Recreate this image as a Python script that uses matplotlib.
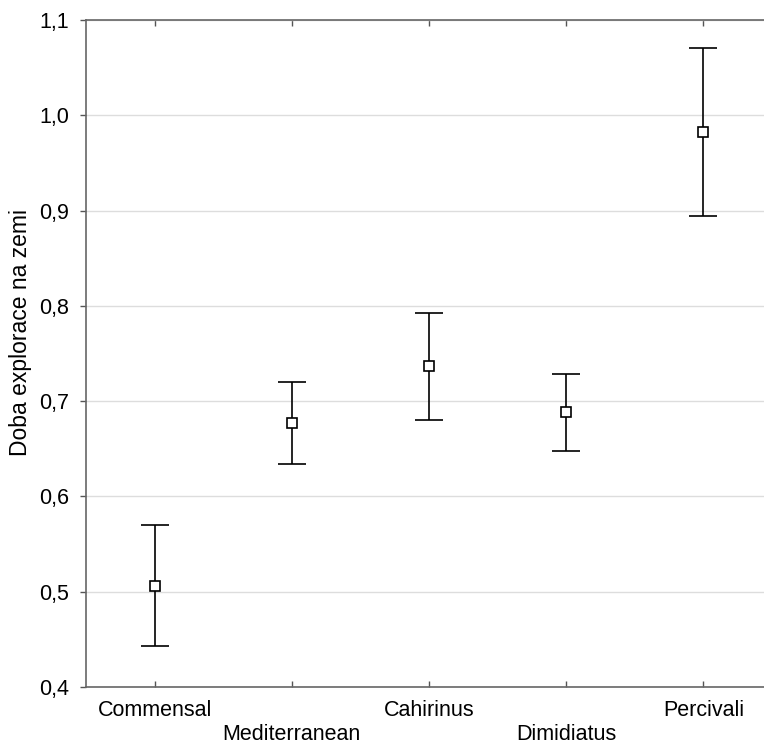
import matplotlib
matplotlib.use("Agg")
import matplotlib.pyplot as plt
import numpy as np

categories = ["Commensal", "Mediterranean", "Cahirinus", "Dimidiatus", "Percivali"]
means = [0.506, 0.677, 0.737, 0.689, 0.982]
upper = [0.570, 0.720, 0.792, 0.729, 1.071]
lower = [0.443, 0.634, 0.680, 0.648, 0.894]
yticks = [0.4, 0.5, 0.6, 0.7, 0.8, 0.9, 1.0, 1.1]
ytick_labels = ["0,4", "0,5", "0,6", "0,7", "0,8", "0,9", "1,0", "1,1"]
ylabel = "Doba explorace na zemi"

plt.rcParams['font.family'] = ['Liberation Sans', 'DejaVu Sans']

W, H = 764, 747
fig = plt.figure(figsize=(W / 100, H / 100), dpi=100)
ax = fig.add_axes([86 / W, (H - 687) / H, (772 - 86) / W, 667 / H])

x = np.arange(len(categories))
m = np.array(means)
yerr = np.vstack([m - np.array(lower), np.array(upper) - m])
ax.errorbar(x, m, yerr=yerr, fmt='s', color='black', ecolor='black',
            elinewidth=1.2, capsize=10, capthick=1.6,
            markersize=7, markerfacecolor='white', markeredgecolor='black',
            markeredgewidth=1.2, zorder=3)

ax.set_xlim(-0.5, len(categories) - 0.5)
ax.set_ylim(0.4, 1.1)
ax.set_yticks(yticks)
ax.set_yticklabels(ytick_labels, fontsize=15.5)
ax.set_xticks(x)
ax.set_xticklabels([c if i % 2 == 0 else "\n" + c for i, c in enumerate(categories)],
                   fontsize=15.5, linespacing=1.25)
ax.yaxis.grid(True, color='#dddddd', linewidth=1.0)
ax.set_axisbelow(True)
ax.tick_params(axis='x', direction='in', top=True, length=4, width=1, color='#555555', pad=9)
ax.tick_params(axis='y', direction='out', length=4, width=1, color='#555555', pad=8)
for s in ax.spines.values():
    s.set_color('#666666')
    s.set_linewidth(1.2)
ax.spines['right'].set_visible(False)
ax.set_ylabel(ylabel, fontsize=16.5)
ax.yaxis.set_label_coords(-86 / (772 - 86) + 21 / (772 - 86), 0.531)
ax.yaxis.label.set_va('center')

fig.savefig("out.png", dpi=100)
